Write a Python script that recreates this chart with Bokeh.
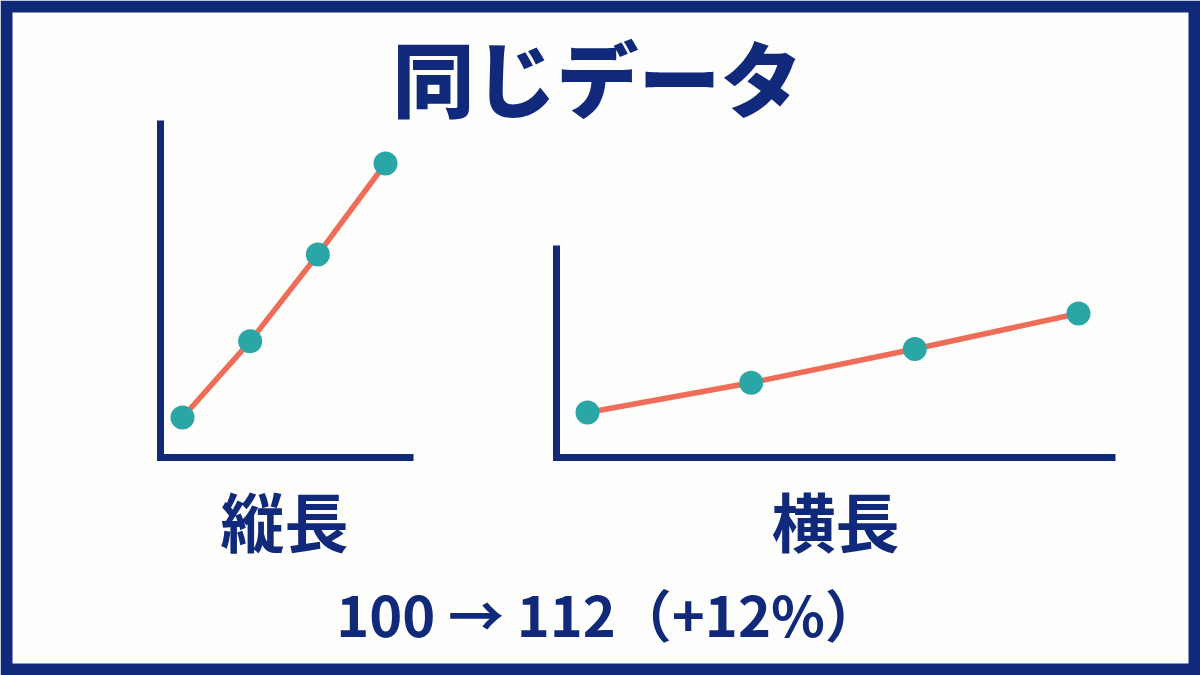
from bokeh.plotting import figure
from bokeh.models import Range1d
from bokeh.core.properties import value
from bokeh.embed import file_html
from bokeh.resources import INLINE

# ---- data ----
periods = [0, 1, 2, 3]
values = [100, 103.6, 107.7, 112]
title_text = "同じデータ"
label_tall = "縦長"
label_wide = "横長"
summary_text = "100 → 112（+12%）"

# ---- style ----
NAVY = "#10297a"
CORAL = "#ee6d58"
TEAL = "#2ba6a6"
BG = "#fdfdfb"
FONT = "Noto Sans CJK JP"
FONT_HEAVY = "'Noto Sans CJK JP Black', 'Noto Sans CJK JP'"

W, H = 1200, 675
OFF = 0  # reference pixel -> figure pixel


def px(r):
    return r - OFF


p = figure(width=W, height=H, x_range=Range1d(0, W), y_range=Range1d(H, 0),
           output_backend="svg", toolbar_location=None,
           x_axis_type=None, y_axis_type=None, min_border=0)
p.background_fill_color = BG
p.border_fill_color = BG
p.outline_line_color = None
p.xgrid.visible = False
p.ygrid.visible = False


def lin_range(v0, v1, p0, p1, frame_lo, frame_hi):
    k = (v1 - v0) / (p1 - p0)
    return Range1d(v0 + (frame_lo - p0) * k, v0 + (frame_hi - p0) * k)


panels = {
    "L": dict(xp=(182, 385), yp=(417, 163), axis_x=160, axis_top=120, axis_right=413, axis_y=457),
    "R": dict(xp=(587, 1078), yp=(412, 313), axis_x=556, axis_top=245, axis_right=1115, axis_y=457),
}

for name, cfg in panels.items():
    x0, x1 = px(cfg["xp"][0]), px(cfg["xp"][1])
    y0, y1 = px(cfg["yp"][0]), px(cfg["yp"][1])
    p.extra_x_ranges["x" + name] = lin_range(periods[0], periods[-1], x0, x1, 0, W)
    p.extra_y_ranges["y" + name] = lin_range(min(values), max(values), y0, y1, H, 0)

    ax, ay = px(cfg["axis_x"]), px(cfg["axis_y"])
    p.line([ax, ax, px(cfg["axis_right"])], [px(cfg["axis_top"]), ay, ay],
           line_color=NAVY, line_width=7, line_join="miter", line_cap="butt")

    p.line(periods, values, x_range_name="x" + name, y_range_name="y" + name,
           line_color=CORAL, line_width=5.5)
    p.scatter(periods, values, x_range_name="x" + name, y_range_name="y" + name,
              size=24, fill_color=TEAL, line_color=None)

# outer frame
p.quad(left=[6], right=[W - 6], top=[6], bottom=[H - 6], fill_color=None,
       line_color=NAVY, line_width=12, line_join="miter")

# texts
p.text([px(597)], [px(75)], text=[title_text], text_font=value(FONT_HEAVY), text_font_style="bold",
       text_font_size="82px", text_color=NAVY, text_align="center", text_baseline="middle")
p.text([px(284)], [px(518)], text=[label_tall], text_font=value(FONT), text_font_style="bold",
       text_font_size="64px", text_color=NAVY, text_align="center", text_baseline="middle")
p.text([px(835)], [px(518)], text=[label_wide], text_font=value(FONT), text_font_style="bold",
       text_font_size="64px", text_color=NAVY, text_align="center", text_baseline="middle")
p.text([px(608)], [px(612)], text=[summary_text], text_font=value(FONT), text_font_style="bold",
       text_font_size="56px", text_color=NAVY, text_align="center", text_baseline="middle")

open("out.html", "w").write(file_html(p, INLINE))
